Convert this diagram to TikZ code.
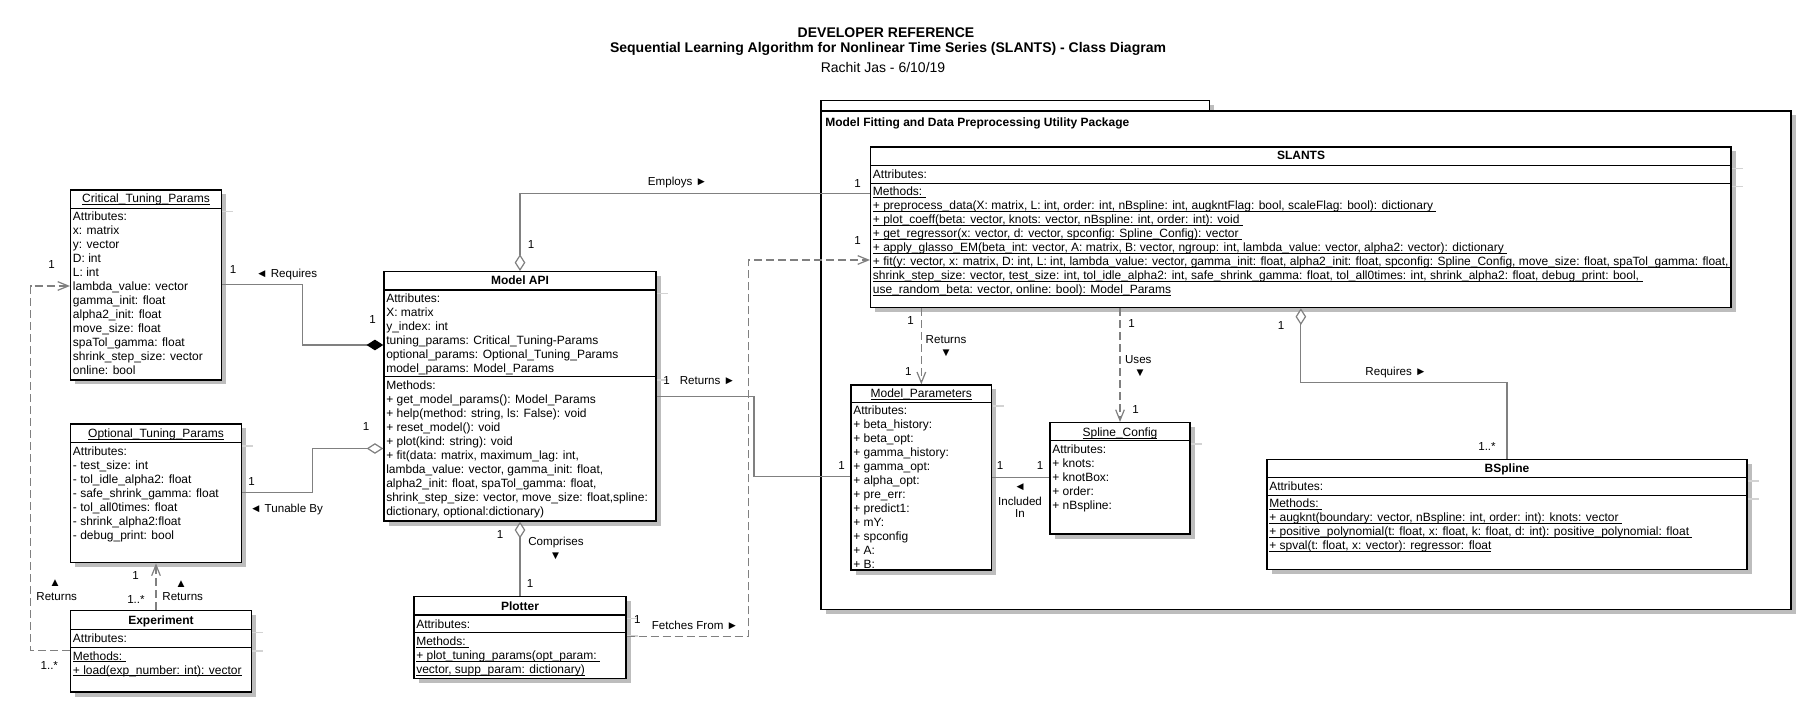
\documentclass[tikz,border=0pt]{standalone}
\usepackage{fontspec}
\setmainfont{Liberation Sans}
\usetikzlibrary{arrows.meta,fit}
\definecolor{linegray}{HTML}{808080}
\definecolor{shadowgray}{HTML}{BDBDBD}
\definecolor{sepshadow}{HTML}{D3D3D3}
\newcommand{\bxfont}{\fontsize{9}{10.5}\selectfont}
\newcommand{\lbfont}{\fontsize{8.7}{10.5}\selectfont}
\newcommand{\rows}[1]{\begin{tabular}[t]{@{}l@{}}#1\end{tabular}}
\newsavebox{\ulbox}
\newcommand{\ulx}[1]{\sbox{\ulbox}{#1}\rlap{\rule[-1.6pt]{\wd\ulbox}{0.6pt}}\usebox{\ulbox}}
\newcommand{\umlshape}[5]{%
  \fill[shadowgray] (#2+4.5,#3+4.5) rectangle (#4+4.5,#5+4.5);
  \node[umlbox, fit={(#2,#3) (#4,#5)}] (#1) {};}
\newcommand{\sepln}[3]{%
  \draw[sepshad] (#2+0.8,#3+3.3) -- (#2+12,#3+3.3);
  \draw[sepline] (#1,#3) -- (#2,#3);}
\tikzset{
  umlbox/.style={draw=black, line width=1.1pt, fill=white, inner sep=0pt},
  sepline/.style={draw=black, line width=1.1pt},
  sepshad/.style={draw=sepshadow, line width=0.8pt},
  boxtext/.style={anchor=base west, inner sep=0pt, font=\bxfont},
  boxtitle/.style={anchor=base, inner sep=0pt, font=\bxfont},
  lbl/.style={inner sep=0pt, font=\lbfont, text=black},
  conn/.style={draw=linegray, line width=0.9pt},
  dep/.style={conn, dash pattern=on 6pt off 3pt, -{Straight Barb[length=8pt,width=6.5pt]}},
  odia/.style={{Diamond[fill=white,length=12.5pt,width=8pt]}-},
  fdia/.style={{Diamond[fill=black,color=black,length=12.5pt,width=8pt]}-},
}
\begin{document}
\begin{tikzpicture}[x=0.75pt,y=-0.75pt]
\useasboundingbox[fill=white] (0,0) rectangle (1813,712);

% titles
\node[font=\fontsize{10.5}{12}\selectfont\bfseries, inner sep=0pt] (title) at (886,32.3) {DEVELOPER REFERENCE};
\node[font=\fontsize{10.5}{12}\selectfont\bfseries, inner sep=0pt] (subtitle) at (888,49) {Sequential Learning Algorithm for Nonlinear Time Series (SLANTS) - Class Diagram};
\node[font=\fontsize{10.5}{12}\selectfont, inner sep=0pt] (author) at (883,68) {Rachit Jas - 6/10/19};

% package
\fill[shadowgray] (821+4.5,100.6+4.5) rectangle (1209.5+4.5,111+4.5);
\umlshape{pkgtab}{821}{100.6}{1209.5}{111}
\umlshape{pkg}{821}{111}{1791}{609.4}
\node[anchor=base west, inner sep=0pt, font=\bxfont\bfseries] (pkglabel) at (825,127) {Model Fitting and Data Preprocessing Utility Package};

% Critical_Tuning_Params
\umlshape{crit}{70.7}{190}{221.3}{380}
\sepln{70.7}{221.3}{208.3}
\node[boxtitle] (crittitle) at (146,203) {\ulx{Critical\_Tuning\_Params}};
\node[boxtext] (crittext) at (72.7,220.7) {\rows{Attributes:\\x: matrix\\y: vector\\D: int\\L: int\\lambda\_value: vector\\gamma\_init: float\\alpha2\_init: float\\move\_size: float\\spaTol\_gamma: float\\shrink\_step\_size: vector\\online: bool}};

% Optional_Tuning_Params
\umlshape{opt}{70.7}{424}{241.3}{562.7}
\sepln{70.7}{241.3}{442.7}
\node[boxtitle] (opttitle) at (156,437.3) {\ulx{Optional\_Tuning\_Params}};
\node[boxtext] (opttext) at (72.7,455.7) {\rows{Attributes:\\- test\_size: int\\- tol\_idle\_alpha2: float\\- safe\_shrink\_gamma: float\\- tol\_all0times: float\\- shrink\_alpha2:float\\- debug\_print: bool}};

% Experiment
\umlshape{expt}{70.7}{610.7}{251.3}{692}
\sepln{70.7}{251.3}{629.3}
\sepln{70.7}{251.3}{647.7}
\node[boxtitle, font=\bxfont\bfseries] (expttitle) at (161,624) {Experiment};
\node[boxtext] (exptattr) at (72.7,642.3) {Attributes:};
\node[boxtext] (exptmeth) at (72.7,660) {\rows{\ulx{Methods:~}\\\ulx{+ load(exp\_number: int): vector}}};

% Model API
\umlshape{api}{384}{271.7}{656}{521}
\sepln{384}{656}{290}
\sepln{384}{656}{376.7}
\node[boxtitle, font=\bxfont\bfseries] (apititle) at (520,284.7) {Model API};
\node[boxtext] (apiattr) at (386,303) {\rows{Attributes:\\X: matrix\\y\_index: int\\tuning\_params: Critical\_Tuning-Params\\optional\_params: Optional\_Tuning\_Params\\model\_params: Model\_Params}};
\node[boxtext] (apimeth) at (386,389.7) {\rows{Methods:\\+ get\_model\_params(): Model\_Params\\+ help(method: string, ls: False): void\\+ reset\_model(): void\\+ plot(kind: string): void\\+ fit(data: matrix, maximum\_lag: int,\\lambda\_value: vector, gamma\_init: float,\\alpha2\_init: float, spaTol\_gamma: float,\\shrink\_step\_size: vector, move\_size: float,spline:\\dictionary, optional:dictionary)}};

% Plotter
\umlshape{plot}{414}{596.7}{626}{678.3}
\sepln{414}{626}{615}
\sepln{414}{626}{632.7}
\node[boxtitle, font=\bxfont\bfseries] (plottitle) at (520,610) {Plotter};
\node[boxtext] (plotattr) at (416,628) {Attributes:};
\node[boxtext] (plotmeth) at (416,645.7) {\rows{\ulx{Methods:~}\\\ulx{+ plot\_tuning\_params(opt\_param:~}\\\ulx{vector, supp\_param: dictionary)}}};

% SLANTS
\umlshape{slants}{870.7}{147}{1731}{307.6}
\sepln{870.7}{1731}{165.3}
\sepln{870.7}{1731}{183.3}
\node[boxtitle, font=\bxfont\bfseries] (slantstitle) at (1301,160) {SLANTS};
\node[boxtext] (slantsattr) at (872.7,178.6) {Attributes:};
\node[boxtext] (slantsmeth) at (872.7,196) {\rows{\ulx{Methods:~}\\
\ulx{+ preprocess\_data(X: matrix, L: int, order: int, nBspline: int, augkntFlag: bool, scaleFlag: bool): dictionary~}\\
\ulx{+ plot\_coeff(beta: vector, knots: vector, nBspline: int, order: int): void~}\\
\ulx{+ get\_regressor(x: vector, d: vector, spconfig: Spline\_Config): vector~}\\
\ulx{+ apply\_glasso\_EM(beta\_int: vector, A: matrix, B: vector, ngroup: int, lambda\_value: vector, alpha2: vector): dictionary~}\\
\ulx{+ fit(y: vector, x: matrix, D: int, L: int, lambda\_value: vector, gamma\_init: float, alpha2\_init: float, spconfig: Spline\_Config, move\_size: float, spaTol\_gamma: float,~}\\
\ulx{shrink\_step\_size: vector, test\_size: int, tol\_idle\_alpha2: int, safe\_shrink\_gamma: float, tol\_all0times: int, shrink\_alpha2: float, debug\_print: bool,~}\\
\ulx{use\_random\_beta: vector, online: bool): Model\_Params}}};

% Model_Parameters
\umlshape{mparams}{851}{385}{991.7}{570}
\sepln{851}{991.7}{402.7}
\node[boxtitle] (mparamstitle) at (921.3,398) {\ulx{Model\_Parameters}};
\begin{scope}
\clip (851,402.7) rectangle (991.7,569.5);
\node[boxtext] (mparamstext) at (853,414.7) {\rows{Attributes:\\+ beta\_history:\\+ beta\_opt:\\+ gamma\_history:\\+ gamma\_opt:\\+ alpha\_opt:\\+ pre\_err:\\+ predict1:\\+ mY:\\+ spconfig\\+ A:\\+ B:}};
\end{scope}
\draw[sepline] (mparams.south west) -- (mparams.south east);

% Spline_Config
\umlshape{spline}{1050}{422.7}{1190}{534}
\sepln{1050}{1190}{440.7}
\node[boxtitle] (splinetitle) at (1120,436.3) {\ulx{Spline\_Config}};
\node[boxtext] (splinetext) at (1052,454) {\rows{Attributes:\\+ knots:\\+ knotBox:\\+ order:\\+ nBspline:}};

% BSpline
\umlshape{bspline}{1267}{459.3}{1747}{569.3}
\sepln{1267}{1747}{477.7}
\sepln{1267}{1747}{495.7}
\node[boxtitle, font=\bxfont\bfseries] (bsplinetitle) at (1507,472.3) {BSpline};
\node[boxtext] (bsplineattr) at (1269,490.7) {Attributes:};
\node[boxtext] (bsplinemeth) at (1269,508) {\rows{\ulx{Methods:~}\\
\ulx{+ augknt(boundary: vector, nBspline: int, order: int): knots: vector~}\\
\ulx{+ positive\_polynomial(t: float, x: float, k: float, d: int): positive\_polynomial: float~}\\
\ulx{+ spval(t: float, x: vector): regressor: float}}};

% connectors
\draw[conn, fdia] (api.west |- 0,345) -| (302.7,284.3) -- (crit.east |- 0,284.3);
\draw[conn, odia] (api.west |- 0,448.5) -| (312.5,492.5) -- (opt.east |- 0,492.5);
\draw[dep] (expt.west |- 0,650.7) -| (30.7,286) -- (crit.west |- 0,286);
\draw[dep] (expt.north -| opt.south) -- (opt.south);
\draw[conn, odia] (api.north) |- (slants.west |- 0,193.3);
\draw[conn, odia] (api.south) -- (plot.north);
\draw[dep] (plot.east |- 0,636.7) -| (748.3,260) -- (slants.west |- 0,260);
\draw[conn] (api.east |- 0,396.7) -| (754,476.7) -- (mparams.west |- 0,476.7);
\draw[dep] (slants.south -| mparams.north) -- (mparams.north);
\draw[dep] (slants.south -| spline.north) -- (spline.north);
\draw[conn] (mparams.east |- 0,477.7) -- (spline.west |- 0,477.7);
\draw[conn, odia] (slants.south) -- (slants.south |- 0,382.7) -| (bspline.north);

% labels
\node[lbl] (l1) at (233,270) {1};
\node[lbl] (l2) at (286.7,274.3) {◄ Requires};
\node[lbl] (l3) at (372.7,319.3) {1};
\node[lbl] (l4) at (251.7,481.7) {1};
\node[lbl] (l5) at (286.5,510) {◄ Tunable By};
\node[lbl] (l6) at (366,426.7) {1};
\node[lbl] (l7) at (51.7,265) {1};
\node[lbl] (l8) at (49.3,666) {1..*};
\node[lbl] (l9) at (55,583.3) {▲};
\node[lbl] (l10) at (56.7,596.7) {Returns};
\node[lbl] (l11) at (135.7,575.7) {1};
\node[lbl] (l12) at (136,600) {1..*};
\node[lbl] (l13) at (181,584) {▲};
\node[lbl] (l14) at (182.7,596.7) {Returns};
\node[lbl] (l15) at (500,535) {1};
\node[lbl] (l16) at (556,542.7) {Comprises};
\node[lbl] (l17) at (555.7,556.7) {▼};
\node[lbl] (l18) at (530,583.3) {1};
\node[lbl] (l19) at (637.3,620) {1};
\node[lbl] (l20) at (695,625) {Fetches From ►};
\node[lbl] (l21) at (531,245) {1};
\node[lbl] (l22) at (677.5,182.3) {Employs ►};
\node[lbl] (l23) at (857.7,184) {1};
\node[lbl] (l24) at (857.7,240.7) {1};
\node[lbl] (l25) at (666.7,380.7) {1};
\node[lbl] (l26) at (707.5,380.7) {Returns ►};
\node[lbl] (l27) at (841.7,465.7) {1};
\node[lbl] (l28) at (910.7,320.7) {1};
\node[lbl] (l29) at (946,340) {Returns};
\node[lbl] (l30) at (946,353.3) {▼};
\node[lbl] (l31) at (908.3,371.7) {1};
\node[lbl] (l32) at (1131.7,323.3) {1};
\node[lbl] (l33) at (1138.3,360) {Uses};
\node[lbl] (l34) at (1140,373.3) {▼};
\node[lbl] (l35) at (1135.7,410) {1};
\node[lbl] (l36) at (1000,465.7) {1};
\node[lbl] (l37) at (1040,465.7) {1};
\node[lbl] (l38) at (1020,486.7) {◄};
\node[lbl] (l39) at (1020,501) {Included};
\node[lbl] (l40) at (1020,514) {In};
\node[lbl] (l41) at (1281,326) {1};
\node[lbl] (l42) at (1396,372.5) {Requires ►};
\node[lbl] (l43) at (1487,446.5) {1..*};
\end{tikzpicture}
\end{document}
